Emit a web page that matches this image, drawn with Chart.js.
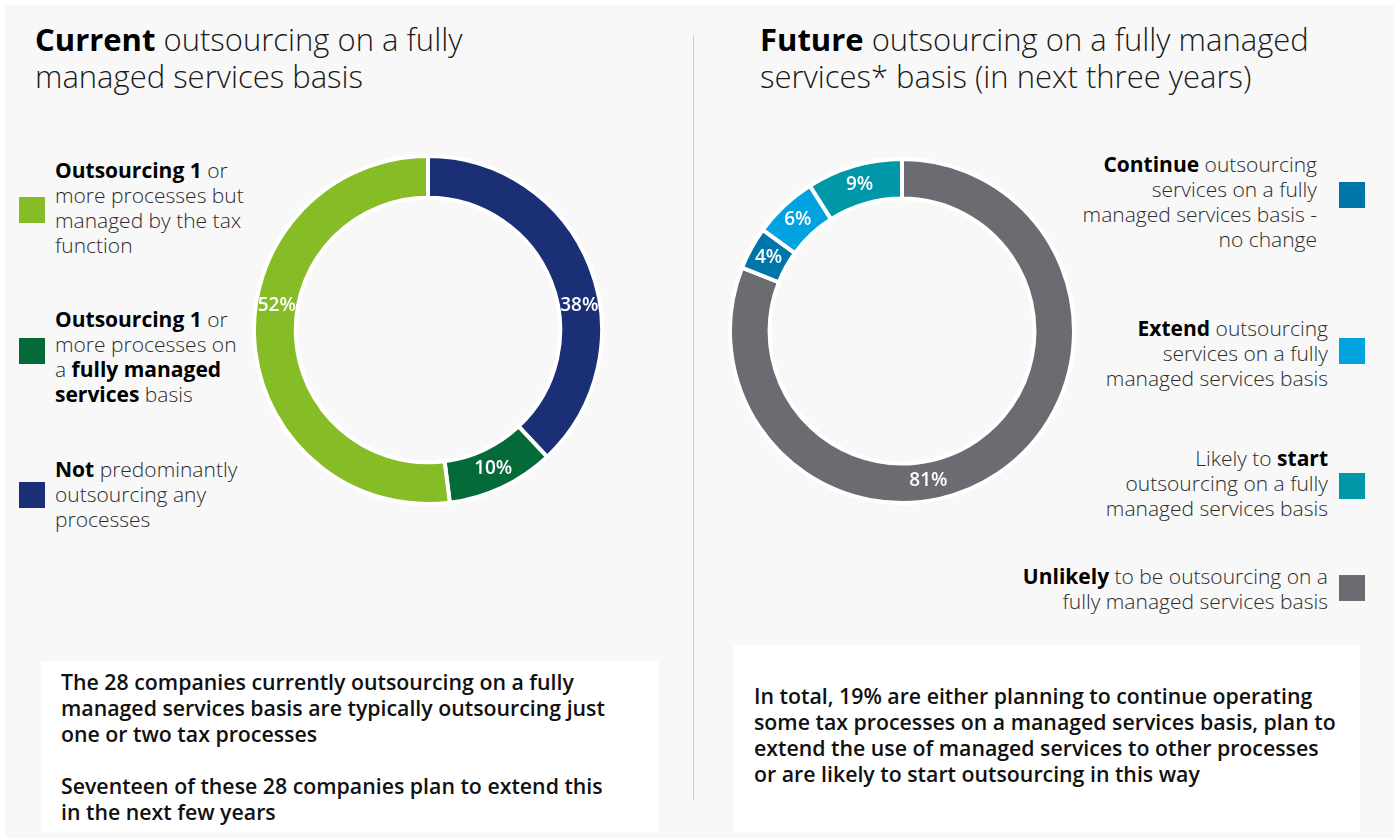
<!DOCTYPE html>
<html lang="en">
<head>
<meta charset="UTF-8">
<title>Managed services outsourcing</title>
<script src="https://cdn.jsdelivr.net/npm/chart.js@4"></script>
<style>
    body { margin:0; width:1399px; height:838px; background:#fff; overflow:hidden;
           font-family:"Open Sans", sans-serif; position:relative; }
    #panel { position:absolute; left:5px; top:5px; width:1389px; height:833px; background:#f8f8f8; }
    .title { position:absolute; top:21px; font-size:31px; line-height:37px; font-weight:300;
             color:#1a1a1a; }
    .title b { font-weight:700; color:#000; }
    .divider { position:absolute; left:693px; top:35px; width:1px; height:765px; background:#cfcfcf; }
    .leg { position:absolute; font-size:21px; line-height:25px; font-weight:300; color:#2b2b2b; }
    .leg b { font-weight:700; color:#000; }
    .leg.r { text-align:right; }
    .sq { position:absolute; width:26px; height:26px; }
    .box { position:absolute; background:#fff; box-sizing:border-box; padding-left:20px;
           font-size:21.3px; line-height:26px; font-weight:600; color:#111; }
    canvas { position:absolute; }
</style>
</head>
<body>
<div id="panel"></div>

<div class="title" style="left:35px;"><b>Current</b> outsourcing on a fully<br>managed services basis</div>
<div class="title" style="left:760px;"><b>Future</b> outsourcing on a fully managed<br>services* basis (in next three years)</div>
<div class="divider"></div>

<!-- left legend -->
<div class="sq" style="left:19px; top:197px; background:#86bc25;"></div>
<div class="leg" style="left:55px; top:158px;"><b>Outsourcing 1</b> or<br>more processes but<br>managed by the tax<br>function</div>
<div class="sq" style="left:19px; top:338px; background:#046a38;"></div>
<div class="leg" style="left:55px; top:307px;"><b>Outsourcing 1</b> or<br>more processes on<br>a <b>fully managed<br>services</b> basis</div>
<div class="sq" style="left:19px; top:482px; background:#1b2f76;"></div>
<div class="leg" style="left:55px; top:457px;"><b>Not</b> predominantly<br>outsourcing any<br>processes</div>

<!-- right legend -->
<div class="leg r" style="right:82px; top:152px;"><b>Continue</b> outsourcing<br>services on a fully<br>managed services basis -<br>no change</div>
<div class="sq" style="left:1339px; top:182px; background:#0076a8;"></div>
<div class="leg r" style="right:71px; top:316px;"><b>Extend</b> outsourcing<br>services on a fully<br>managed services basis</div>
<div class="sq" style="left:1339px; top:338px; background:#00a3e0;"></div>
<div class="leg r" style="right:71px; top:446px;">Likely to <b>start</b><br>outsourcing on a fully<br>managed services basis</div>
<div class="sq" style="left:1339px; top:473px; background:#0097a9;"></div>
<div class="leg r" style="right:71px; top:564px;"><b>Unlikely</b> to be outsourcing on a<br>fully managed services basis</div>
<div class="sq" style="left:1339px; top:575px; background:#6b6c71;"></div>

<canvas id="currentChart" width="352" height="352" style="left:252px; top:154px;"></canvas>
<canvas id="futureChart" width="348" height="348" style="left:728px; top:157px;"></canvas>

<div class="box" style="left:41px; top:661px; width:617px; height:171px; padding-top:8px;">
    The 28 companies currently outsourcing on a fully<br>managed services basis are typically outsourcing just<br>one or two tax processes<br><br>Seventeen of these 28 companies plan to extend this<br>in the next few years
</div>
<div class="box" style="left:734px; top:645px; width:626px; height:187px; padding-top:38px;">
    In total, 19% are either planning to continue operating<br>some tax processes on a managed services basis, plan to<br>extend the use of managed services to other processes<br>or are likely to start outsourcing in this way
</div>

<script>
    // current (clockwise from 12 o'clock)
    var currentLabels = ['Not predominantly outsourcing any processes',
                         'Outsourcing 1 or more processes on a fully managed services basis',
                         'Outsourcing 1 or more processes but managed by the tax function'];
    var currentValues = [38, 10, 52];
    var currentColors = ['#1b2f76', '#046a38', '#86bc25'];

    // future (clockwise from 12 o'clock)
    var futureLabels = ['Unlikely to be outsourcing on a fully managed services basis',
                        'Continue outsourcing services on a fully managed services basis - no change',
                        'Extend outsourcing services on a fully managed services basis',
                        'Likely to start outsourcing on a fully managed services basis'];
    var futureValues = [81, 4, 6, 9];
    var futureColors = ['#6b6c71', '#0076a8', '#00a3e0', '#0097a9'];

    // percent labels drawn inside the ring, optional angle (deg from top) for the big slices
    const pctLabels = {
        id: 'pctLabels',
        afterDatasetsDraw(chart, args, opts) {
            const ctx = chart.ctx;
            const vals = chart.data.datasets[0].data;
            const meta = chart.getDatasetMeta(0);
            ctx.save();
            ctx.fillStyle = '#fff';
            ctx.font = '600 19px "Open Sans"';
            ctx.textAlign = 'center';
            ctx.textBaseline = 'middle';
            meta.data.forEach(function(arc, i){
                const p = arc.getProps(['x','y','startAngle','endAngle','innerRadius','outerRadius'], true);
                let a = (p.startAngle + p.endAngle) / 2;
                const over = (opts.angles || [])[i];
                if (over != null) a = over * Math.PI / 180 - Math.PI / 2;
                const r = (p.innerRadius + p.outerRadius) / 2;
                ctx.fillText(vals[i] + '%', p.x + r * Math.cos(a), p.y + r * Math.sin(a));
            });
            ctx.restore();
        }
    };

    function makeDonut(id, labels, values, colors, cutout, angles){
        return new Chart(document.getElementById(id), {
            type: 'doughnut',
            data: {
                labels: labels,
                datasets: [{
                    data: values,
                    backgroundColor: colors,
                    borderColor: '#ffffff',
                    borderWidth: 4
                }]
            },
            options: {
                responsive: false,
                animation: false,
                devicePixelRatio: 1,
                cutout: cutout,
                layout: { padding: 0 },
                plugins: {
                    legend: { display: false },
                    tooltip: { enabled: false },
                    pctLabels: { angles: angles }
                }
            },
            plugins: [pctLabels]
        });
    }

    makeDonut('currentChart', currentLabels, currentValues, currentColors, '76%', [81, null, 279]);
    makeDonut('futureChart', futureLabels, futureValues, futureColors, '77%', [170, null, null, null]);
</script>
</body>
</html>
